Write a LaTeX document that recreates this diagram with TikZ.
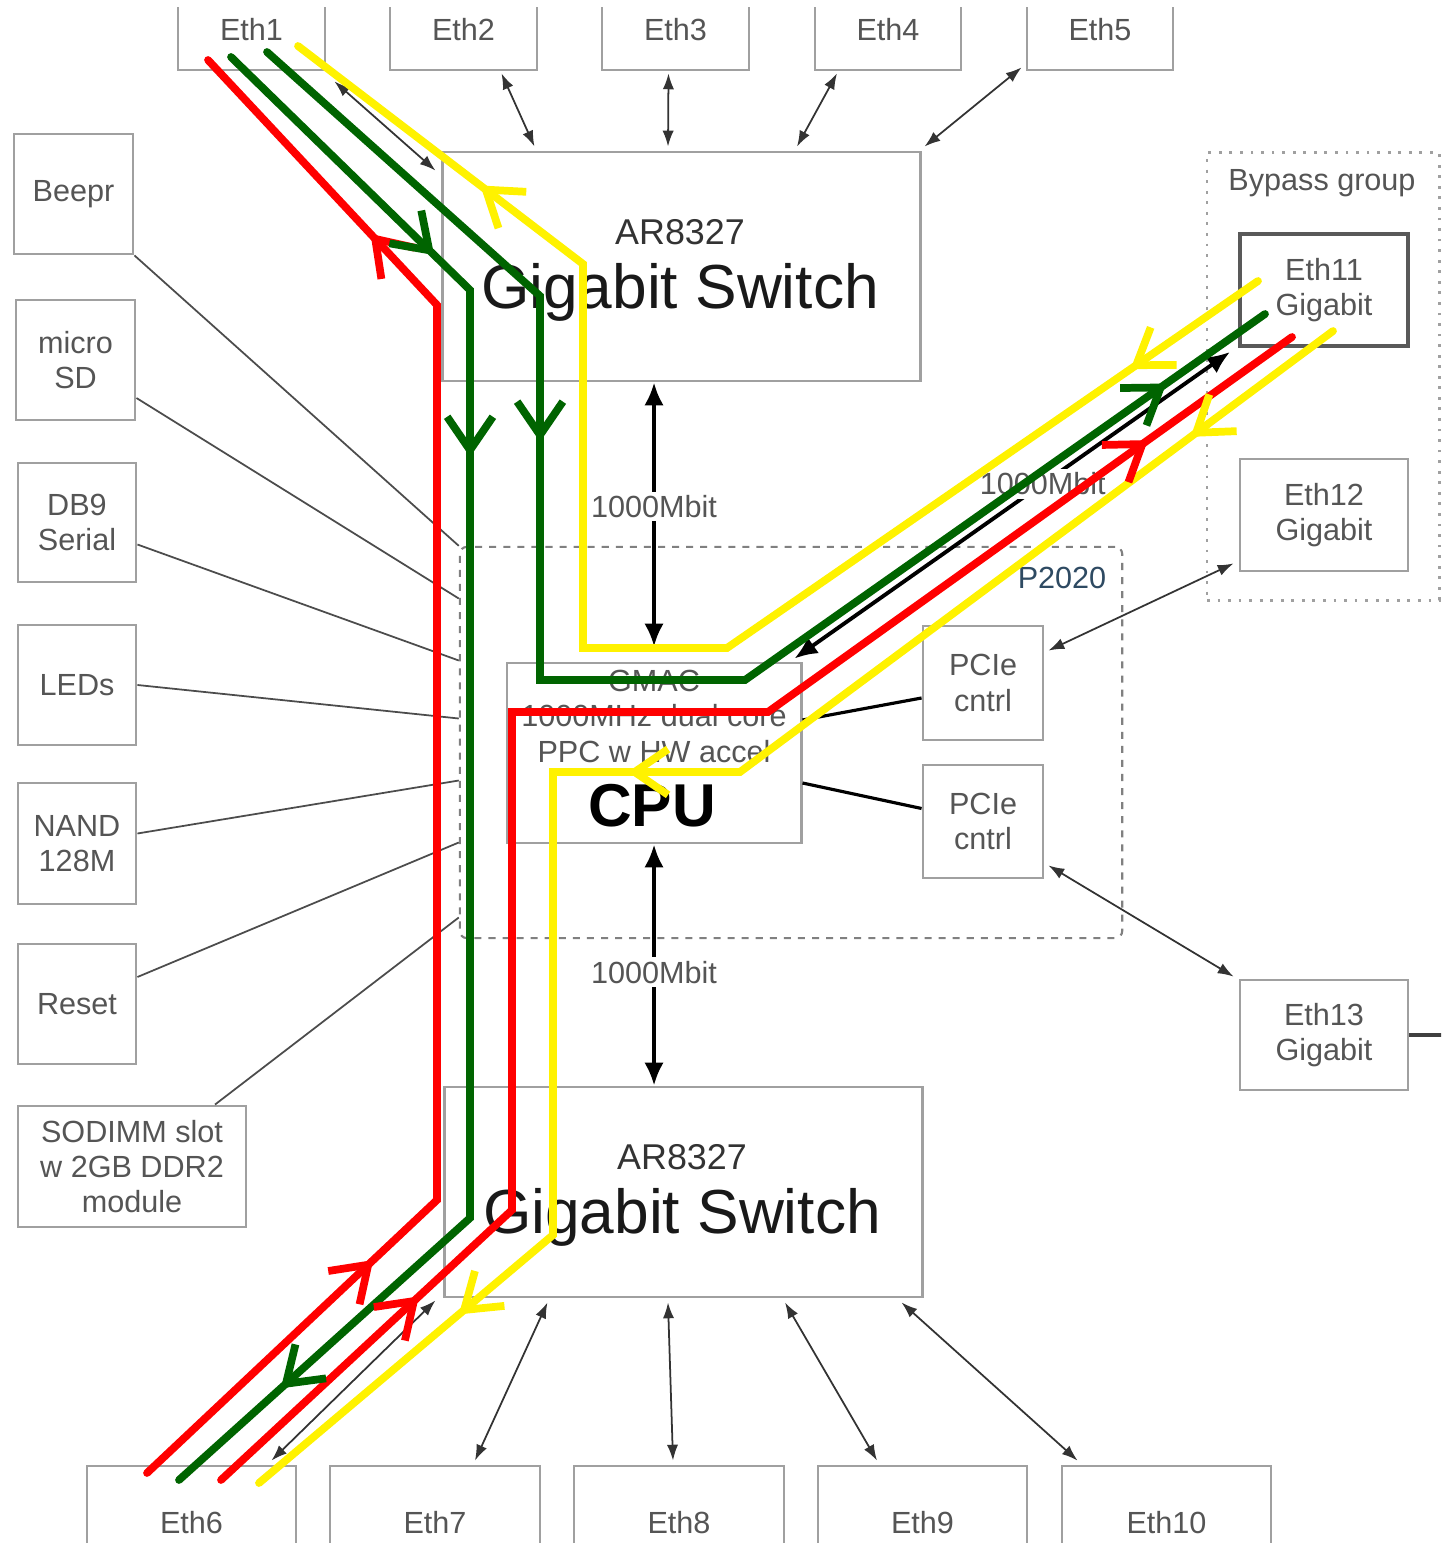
\documentclass[tikz,border=0pt]{standalone}
\usepackage{fontspec}
\setmainfont{Liberation Sans}
\usetikzlibrary{arrows.meta,calc}

\definecolor{boxgray}{HTML}{A0A0A0}
\definecolor{txtgray}{HTML}{555555}
\definecolor{routegreen}{HTML}{006400}
\definecolor{p2020blue}{HTML}{2E4A62}

% arrow head on a route segment, between two fractions of (a)--(b)
\newcommand{\routetip}[5]{\draw[#1,-{Straight Barb[length=9.5pt,width=13pt]}] ($(#2)!#4!(#3)$) -- ($(#2)!#5!(#3)$);}

\begin{document}
\begin{tikzpicture}[x=0.01cm,y=-0.01cm,
    box/.style={draw=boxgray,line width=0.8pt,fill=white,text=txtgray,align=center,inner sep=0pt,font=\fontsize{8.7}{10}\selectfont},
    region/.style={draw=gray,line width=0.6pt,dash pattern=on 2pt off 2pt,rounded corners=2pt},
    link/.style={draw=black!80,line width=0.5pt,{Latex[length=4.5pt,width=3.2pt]}-{Latex[length=4.5pt,width=3.2pt]}},
    wire/.style={draw=black!70,line width=0.5pt},
    uplink/.style={draw=black,line width=1.1pt,{Latex[length=6.5pt,width=5.5pt]}-{Latex[length=6.5pt,width=5.5pt]}},
    rate/.style={fill=white,text=txtgray,inner sep=1pt,font=\fontsize{8.7}{10}\selectfont},
    route/.style={line width=2.2pt,line cap=round},
    redroute/.style={route,draw=red},
    greenroute/.style={route,draw=routegreen},
    yellowroute/.style={route,draw=yellow}]

\useasboundingbox (0,0) rectangle (1441,1543);
\clip (0,8) rectangle (1441,1543);

% Ports on the upper switch
\node[box,minimum width=1.47cm,minimum height=0.8cm] (eth1) at (251.5,30) {Eth1};
\node[box,minimum width=1.47cm,minimum height=0.8cm] (eth2) at (463.5,30) {Eth2};
\node[box,minimum width=1.47cm,minimum height=0.8cm] (eth3) at (675.5,30) {Eth3};
\node[box,minimum width=1.46cm,minimum height=0.8cm] (eth4) at (888,30) {Eth4};
\node[box,minimum width=1.46cm,minimum height=0.8cm] (eth5) at (1100,30) {Eth5};

% Switches
\node[box,minimum width=4.77cm,minimum height=2.29cm] (sw1) at (681.5,266.5) {};
\node[text=black!80,font=\fontsize{10.2}{12}\selectfont] (sw1chip) at (680,232) {AR8327};
\node[text=black!90,font=\fontsize{17.7}{20}\selectfont] (sw1name) at (680,292) {Gigabit Switch};
\node[box,minimum width=4.77cm,minimum height=2.10cm] (sw2) at (683.5,1192) {};
\node[text=black!80,font=\fontsize{10.2}{12}\selectfont] (sw2chip) at (682,1157) {AR8327};
\node[text=black!90,font=\fontsize{17.7}{20}\selectfont] (sw2name) at (682,1217) {Gigabit Switch};

% Peripherals on the left
\node[box,minimum width=1.19cm,minimum height=1.20cm] (beepr) at (73.5,194) {Beepr};
\node[box,minimum width=1.19cm,minimum height=1.20cm] (microsd) at (75.5,360) {micro\\SD};
\node[box,minimum width=1.18cm,minimum height=1.19cm] (db9) at (77,522.5) {DB9\\Serial};
\node[box,minimum width=1.18cm,minimum height=1.20cm] (leds) at (77,685) {LEDs};
\node[box,minimum width=1.18cm,minimum height=1.21cm] (nand) at (77,843.5) {NAND\\128M};
\node[box,minimum width=1.18cm,minimum height=1.20cm] (reset) at (77,1004) {Reset};
\node[box,minimum width=2.28cm,minimum height=1.21cm] (sodimm) at (132,1166.5) {SODIMM slot\\w 2GB DDR2\\module};

% P2020 SoC
\node[region,minimum width=6.62cm,minimum height=3.91cm] (p2020) at (791,742.5) {};
\node[text=p2020blue,font=\fontsize{8.7}{10}\selectfont] (p2020label) at (1062,578) {P2020};
\node[box,minimum width=2.94cm,minimum height=1.80cm] (cpu) at (654,753) {};
\node[text=txtgray,align=center,font=\fontsize{8.7}{10.1}\selectfont] (cpuinfo) at (654,716) {GMAC\\1000MHz dual core\\PPC w HW accel};
\node[text=black,font=\bfseries\fontsize{17.2}{20}\selectfont] (cpuname) at (652,806) {CPU};
\node[box,minimum width=1.20cm,minimum height=1.14cm] (pcie1) at (983,683) {PCIe\\cntrl};
\node[box,minimum width=1.20cm,minimum height=1.13cm] (pcie2) at (983,821.5) {PCIe\\cntrl};

% Bypass group and the gigabit ports on the right
\node[draw=boxgray,line width=0.8pt,dash pattern=on 0.8pt off 2.2pt,minimum width=2.32cm,minimum height=4.47cm] (bypass) at (1323,376.5) {};
\node[text=txtgray,font=\fontsize{8.7}{10}\selectfont] (bypasslabel) at (1322,183) {Bypass group};
\node[box,draw=black!65,line width=1.1pt,minimum width=1.68cm,minimum height=1.12cm] (eth11) at (1324,290) {Eth11\\Gigabit};
\node[box,minimum width=1.68cm,minimum height=1.12cm] (eth12) at (1324,515) {Eth12\\Gigabit};
\node[box,minimum width=1.68cm,minimum height=1.10cm] (eth13) at (1324,1035) {Eth13\\Gigabit};
\coordinate (offpage) at (1445,1035);

% Ports on the lower switch
\node[box,minimum width=2.09cm,minimum height=1.14cm] (eth6) at (191.5,1523) {Eth6};
\node[box,minimum width=2.10cm,minimum height=1.14cm] (eth7) at (435,1523) {Eth7};
\node[box,minimum width=2.10cm,minimum height=1.14cm] (eth8) at (679,1523) {Eth8};
\node[box,minimum width=2.09cm,minimum height=1.14cm] (eth9) at (922.5,1523) {Eth9};
\node[box,minimum width=2.09cm,minimum height=1.14cm] (eth10) at (1166.5,1523) {Eth10};

% Switch port links
\draw[link] ([shift={(8,10)}]eth1.south east) -- ([shift={(-6,20)}]sw1.north west);
\draw[link] ([shift={(38,2)}]eth2.south) -- ([shift={(93,-4)}]sw1.north west);
\draw[link] ([shift={(-7,2)}]eth3.south) -- ([shift={(-13.5,-4)}]sw1.north);
\draw[link] ([shift={(-51,2)}]eth4.south) -- ([shift={(115.5,-4)}]sw1.north);
\draw[link] ([shift={(-4,-4)}]eth5.south west) -- ([shift={(3,-4)}]sw1.north east);
\draw[link] ([shift={(-26,-4)}]eth6.north east) -- ([shift={(-8,2)}]sw2.south west);
\draw[link] ([shift={(40,-4)}]eth7.north) -- ([shift={(104,4)}]sw2.south west);
\draw[link] ([shift={(-6,-4)}]eth8.north) -- ([shift={(-15.5,4)}]sw2.south);
\draw[link] ([shift={(-45.5,-4)}]eth9.north) -- ([shift={(101.5,4)}]sw2.south);
\draw[link] ([shift={(17,-4)}]eth10.north west) -- ([shift={(-22,4)}]sw2.south east);

% Peripheral wires into the SoC
\draw[wire] (beepr.south east) -- (p2020.north west);
\draw[wire] ([shift={(0,38)}]microsd.east) -- ([shift={(0,-144)}]p2020.west);
\draw[wire] ([shift={(0,22)}]db9.east) -- ([shift={(0,-82)}]p2020.west);
\draw[wire] (leds.east) -- ([shift={(0,-24)}]p2020.west);
\draw[wire] ([shift={(0,-10)}]nand.east) -- ([shift={(0,38)}]p2020.west);
\draw[wire] ([shift={(0,-27)}]reset.east) -- ([shift={(0,100)}]p2020.west);
\draw[wire] ([shift={(83,0)}]sodimm.north) -- ([shift={(0,175)}]p2020.west);

% CPU links
\draw[uplink] (cpu.north |- sw1.south) -- node[rate,pos=0.47] (ratetop) {1000Mbit} ([yshift=1.5mm]cpu.north);
\draw[uplink] (cpu.south) -- node[rate,pos=0.53] (ratebottom) {1000Mbit} (cpu.south |- sw2.north);
\draw[uplink] ([shift={(-8,-3)}]cpu.north east) -- node[rate,pos=0.57] (rateeth11) {1000Mbit} ([shift={(-8,4)}]eth11.south west);
\draw[line width=0.9pt] ([shift={(0,-33)}]cpu.east) -- ([shift={(0,15)}]pcie1.west);
\draw[line width=0.9pt] ([shift={(0,30)}]cpu.east) -- ([shift={(0,-13)}]pcie2.west);
\draw[link] ([shift={(4,26)}]pcie1.north east) -- ([shift={(-5,-9)}]eth12.south west);
\draw[link] ([shift={(4,-14)}]pcie2.south east) -- ([shift={(-5,-2)}]eth13.north west);
\draw[line width=0.9pt,draw=black!75] (eth13.east) -- (offpage);

% Traffic routes
\coordinate (ra1) at (147,1473); \coordinate (ra2) at (437,1200);
\coordinate (ra3) at (437,305);  \coordinate (ra4) at (208,60);
\coordinate (ga1) at (231,57);   \coordinate (ga2) at (470,290);
\coordinate (ga3) at (470,1218); \coordinate (ga4) at (179,1480);
\coordinate (gb1) at (267,52);   \coordinate (gb2) at (540,296);
\coordinate (gb3) at (540,680);  \coordinate (gb4) at (745,680);
\coordinate (gb5) at (1265,314);
\coordinate (ya1) at (1258,281); \coordinate (ya2) at (727,648);
\coordinate (ya3) at (583,648);  \coordinate (ya4) at (583,264);
\coordinate (ya5) at (298,46);
\coordinate (rb1) at (221,1480); \coordinate (rb2) at (512,1210);
\coordinate (rb3) at (512,712);  \coordinate (rb4) at (768,712);
\coordinate (rb5) at (1292,337);
\coordinate (yb1) at (1333,331); \coordinate (yb2) at (740,772);
\coordinate (yb3) at (553,772);  \coordinate (yb4) at (553,1235);
\coordinate (yb5) at (259,1483);

\draw[redroute] (ra1) -- (ra2) -- (ra3) -- (ra4);
\draw[greenroute] (ga1) -- (ga2) -- (ga3) -- (ga4);
\draw[greenroute] (gb1) -- (gb2) -- (gb3) -- (gb4) -- (gb5);
\draw[yellowroute] (ya1) -- (ya2) -- (ya3) -- (ya4) -- (ya5);
\draw[redroute] (rb1) -- (rb2) -- (rb3) -- (rb4) -- (rb5);
\draw[yellowroute] (yb1) -- (yb2) -- (yb3) -- (yb4) -- (yb5);

\routetip{redroute}{ra1}{ra2}{0.74}{0.78}
\routetip{redroute}{ra3}{ra4}{0.25}{0.29}
\routetip{greenroute}{ga1}{ga2}{0.81}{0.85}
\routetip{greenroute}{ga2}{ga3}{0.16}{0.18}
\routetip{greenroute}{ga3}{ga4}{0.61}{0.65}
\routetip{greenroute}{gb2}{gb3}{0.34}{0.38}
\routetip{greenroute}{gb4}{gb5}{0.78}{0.81}
\routetip{yellowroute}{ya1}{ya2}{0.21}{0.24}
\routetip{yellowroute}{ya4}{ya5}{0.32}{0.36}
\routetip{redroute}{rb1}{rb2}{0.64}{0.68}
\routetip{redroute}{rb4}{rb5}{0.70}{0.725}
\routetip{yellowroute}{yb1}{yb2}{0.21}{0.24}
\routetip{yellowroute}{yb2}{yb3}{0.55}{0.60}
\routetip{yellowroute}{yb4}{yb5}{0.28}{0.32}

\end{tikzpicture}
\end{document}
